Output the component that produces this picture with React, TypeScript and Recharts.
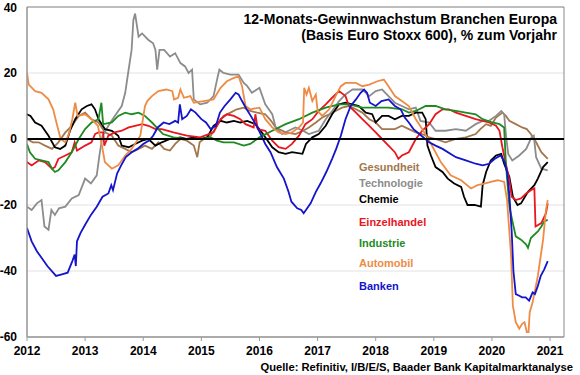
import React from "react";
import { LineChart, Line, XAxis, YAxis, CartesianGrid, ReferenceLine, ReferenceArea } from "recharts";

// 12-month earnings growth by sector, Euro Stoxx 600 basis (year fraction, % yoy)
type Pt = [number, number];

const gesundheit: Pt[] = [
  [2012.0, 0], [2012.1, -1], [2012.2, -1], [2012.31, -2], [2012.43, -3], [2012.54, -1], [2012.66, 2], [2012.77, 4],
  [2012.89, 7], [2013.0, 8], [2013.11, 6], [2013.23, 5], [2013.34, 2], [2013.46, 1], [2013.57, -2], [2013.69, -3],
  [2013.8, -4], [2013.92, -3], [2014.03, -2], [2014.15, -3], [2014.26, -1], [2014.36, -3], [2014.46, -3.5],
  [2014.55, -1.5], [2014.64, 0], [2014.75, -0.5], [2014.87, -2], [2014.93, -5.5], [2014.97, -1], [2015.04, 0],
  [2015.16, 1], [2015.27, 4], [2015.38, 7], [2015.5, 8], [2015.61, 9], [2015.73, 9.5], [2015.84, 8.5], [2015.96, 8],
  [2016.1, 7.5], [2016.2, 5.5], [2016.28, 3.5], [2016.45, 2], [2016.62, 1.5], [2016.75, 2.5], [2016.85, 3.5],
  [2016.97, 5], [2017.08, 6.5], [2017.2, 7.5], [2017.31, 8.5], [2017.42, 9.5], [2017.54, 10], [2017.66, 9],
  [2017.77, 8], [2017.89, 6], [2018.0, 5], [2018.11, 3], [2018.22, 3], [2018.33, 3], [2018.45, 4], [2018.57, 3],
  [2018.69, 2], [2018.8, 1.5], [2018.92, 0.5], [2019.03, 0], [2019.2, -1], [2019.38, 0], [2019.55, 0.5],
  [2019.72, 1.5], [2019.8, 3], [2019.9, 4.5], [2019.98, 4], [2020.07, 6.5], [2020.18, 8], [2020.24, 7],
  [2020.3, 5.5], [2020.41, 4.5], [2020.52, 3.5], [2020.6, 3], [2020.67, 1.5], [2020.76, -1], [2020.85, -4],
  [2020.96, -6],
];

const technologie: Pt[] = [
  [2012.0, -20.5], [2012.08, -21.5], [2012.17, -19.5], [2012.25, -18.5], [2012.3, -26.5], [2012.37, -27.5],
  [2012.42, -21.5], [2012.48, -23], [2012.55, -21], [2012.66, -20.5], [2012.77, -18], [2012.89, -17], [2013.0, -12],
  [2013.1, -13.5], [2013.2, -11], [2013.25, -4.5], [2013.3, 1], [2013.4, 4], [2013.51, 7], [2013.63, 10],
  [2013.69, 14], [2013.74, 20], [2013.8, 27], [2013.83, 36], [2013.86, 38], [2013.92, 31], [2013.98, 32],
  [2014.09, 30], [2014.17, 29], [2014.21, 27], [2014.24, 21], [2014.28, 27], [2014.36, 27], [2014.46, 25],
  [2014.55, 26], [2014.64, 23], [2014.72, 22], [2014.78, 20], [2014.84, 21], [2014.87, 12], [2014.98, 10.5],
  [2015.1, 11], [2015.21, 13], [2015.27, 18], [2015.31, 21], [2015.38, 20], [2015.5, 19.5], [2015.64, 19.5],
  [2015.73, 17], [2015.79, 16], [2015.87, 14], [2016.0, 15.5], [2016.1, 10.5], [2016.22, 7.5], [2016.28, 3.5],
  [2016.39, 1.5], [2016.5, 2.5], [2016.62, 3.5], [2016.75, 2.5], [2016.85, 1.5], [2017.02, 2.5], [2017.14, 6],
  [2017.25, 8.5], [2017.37, 11.5], [2017.48, 13.5], [2017.6, 15], [2017.77, 15], [2017.89, 13], [2018.0, 14.5],
  [2018.11, 15], [2018.22, 13], [2018.33, 11], [2018.45, 10], [2018.57, 9], [2018.69, 9.5], [2018.77, 5.5],
  [2018.92, 5], [2019.03, 2.5], [2019.2, 2.5], [2019.38, 3], [2019.55, 2.5], [2019.72, 4.5], [2019.84, 5.5],
  [2019.95, 5.5], [2020.07, 7], [2020.16, 8.5], [2020.21, 7.5], [2020.24, 1.5], [2020.28, -4.5], [2020.35, -6.5],
  [2020.47, -5], [2020.59, -3], [2020.68, 0.5], [2020.72, 1], [2020.76, -5.5], [2020.85, -9], [2020.96, -9.5],
];

const chemie: Pt[] = [
  [2012.0, 7.5], [2012.06, 7], [2012.14, 5], [2012.25, 4], [2012.37, 1], [2012.48, -2.5], [2012.57, -3],
  [2012.66, -2], [2012.74, 2.5], [2012.83, 6], [2012.94, 9], [2013.03, 10], [2013.11, 10.5], [2013.17, 9],
  [2013.23, 6], [2013.34, 3], [2013.46, 2.5], [2013.57, 1], [2013.63, -2], [2013.75, -2.5], [2013.86, -1.5],
  [2013.98, -0.5], [2014.09, 0], [2014.21, -2], [2014.32, -1], [2014.46, 0], [2014.64, 0.5], [2014.75, 0],
  [2014.87, 0.5], [2014.98, 0], [2015.1, 0.5], [2015.21, 4], [2015.33, 5.5], [2015.44, 5], [2015.56, 5.5],
  [2015.67, 5], [2015.79, 5.5], [2015.93, 4.5], [2016.02, 2.5], [2016.1, 0.5], [2016.22, -2.5], [2016.33, -4],
  [2016.45, -4.5], [2016.56, -4], [2016.74, -4.5], [2016.8, -1.5], [2016.91, 0.5], [2017.02, 1.5], [2017.14, 4],
  [2017.25, 7.5], [2017.37, 10.5], [2017.48, 11], [2017.6, 10.5], [2017.71, 10], [2017.83, 8], [2017.94, 7.5],
  [2018.0, 5], [2018.11, 7], [2018.22, 7], [2018.33, 6], [2018.45, 7], [2018.57, 7], [2018.69, 8], [2018.8, 8],
  [2018.86, 6], [2018.89, -2], [2018.95, -5], [2019.03, -8.5], [2019.15, -10], [2019.24, -12], [2019.35, -13.5],
  [2019.47, -14.5], [2019.52, -17.5], [2019.58, -20], [2019.7, -20], [2019.81, -20.5], [2019.84, -14],
  [2019.9, -10], [2019.98, -6.5], [2020.07, -5], [2020.16, -4.5], [2020.21, -7.5], [2020.3, -11.5],
  [2020.36, -17.5], [2020.44, -20], [2020.5, -19.5], [2020.62, -16], [2020.73, -14], [2020.79, -12],
  [2020.88, -8.5], [2020.96, -7],
];

const einzelhandel: Pt[] = [
  [2012.0, -7], [2012.08, -8], [2012.2, -6.5], [2012.31, -7], [2012.43, -9], [2012.48, -8.5], [2012.54, -6],
  [2012.66, -5], [2012.77, -4], [2012.82, -1], [2012.86, -3.5], [2013.0, -2], [2013.11, -1], [2013.17, 1.5],
  [2013.23, 2], [2013.31, 2], [2013.33, -2], [2013.4, 1], [2013.51, 2], [2013.63, 2.5], [2013.75, 3.5],
  [2013.86, 4], [2013.98, 4.5], [2014.09, 4], [2014.21, 3], [2014.32, 3], [2014.52, 2], [2014.75, 1],
  [2014.98, 0.5], [2015.21, 2], [2015.33, 6], [2015.44, 7.5], [2015.56, 7], [2015.67, 6], [2015.76, 4.5],
  [2015.9, 3.5], [2015.93, 7.5], [2015.97, 3], [2016.1, 2.5], [2016.22, -0.5], [2016.33, -2.5], [2016.45, -3],
  [2016.56, -1.5], [2016.68, 1], [2016.79, 4.5], [2016.91, 6], [2017.02, 8.5], [2017.14, 10.5], [2017.25, 12.5],
  [2017.37, 14.5], [2017.48, 13], [2017.54, 10], [2017.66, 8], [2017.77, 6], [2017.89, 4], [2018.0, 2],
  [2018.11, 0], [2018.22, -2], [2018.33, -4], [2018.39, -6], [2018.45, -5], [2018.57, -4], [2018.69, 0],
  [2018.8, 2.5], [2018.92, 4.5], [2019.03, 7.5], [2019.15, 9], [2019.26, 9], [2019.38, 8], [2019.55, 7],
  [2019.72, 6], [2019.84, 5.5], [2019.95, 5], [2020.07, 4], [2020.13, 2.5], [2020.18, -2.5], [2020.24, -7.5],
  [2020.3, -12.5], [2020.34, -17.5], [2020.41, -18.5], [2020.5, -18], [2020.59, -16.5], [2020.67, -15.5],
  [2020.73, -15], [2020.75, -26.5], [2020.85, -25.5], [2020.93, -22.5], [2020.96, -19.5],
];

const industrie: Pt[] = [
  [2012.0, -1.5], [2012.05, -4], [2012.14, -6], [2012.25, -6.5], [2012.37, -7], [2012.43, -9], [2012.48, -10],
  [2012.54, -9.5], [2012.66, -7], [2012.77, -4], [2012.89, 0], [2013.0, 3], [2013.11, 5], [2013.23, 6],
  [2013.28, 11], [2013.31, 4.5], [2013.46, 5], [2013.57, 7], [2013.69, 8], [2013.8, 7.5], [2013.92, 8],
  [2014.03, 7], [2014.15, 5], [2014.26, 3], [2014.34, 1.5], [2014.52, 0.5], [2014.75, 0], [2014.98, 0],
  [2015.16, 0.5], [2015.27, -0.5], [2015.38, -1], [2015.56, -1], [2015.73, -2], [2015.84, -1.5], [2016.0, 0.5],
  [2016.22, 2.5], [2016.45, 4.5], [2016.68, 6], [2016.91, 8], [2017.14, 9.5], [2017.37, 10.5], [2017.54, 10.5],
  [2017.77, 9.5], [2018.0, 9.5], [2018.22, 9.5], [2018.45, 9], [2018.57, 8], [2018.69, 8.5], [2018.86, 10],
  [2019.03, 10], [2019.2, 9], [2019.38, 8.5], [2019.55, 8], [2019.72, 7.5], [2019.84, 6], [2020.01, 5],
  [2020.13, 4.5], [2020.21, 3.5], [2020.24, -7.5], [2020.3, -20.5], [2020.36, -25.5], [2020.41, -29.5],
  [2020.5, -30.5], [2020.59, -32], [2020.62, -33], [2020.67, -30], [2020.79, -28], [2020.85, -26.5],
  [2020.9, -25], [2020.96, -24.5],
];

const automobil: Pt[] = [
  [2012.0, 20], [2012.03, 16.5], [2012.14, 14.5], [2012.25, 14], [2012.37, 12], [2012.45, 9], [2012.52, 4],
  [2012.58, 0], [2012.66, -1], [2012.72, 1.5], [2012.78, 6], [2012.83, 11], [2012.87, 7], [2013.0, 7.5],
  [2013.11, 6], [2013.22, 4], [2013.29, -2], [2013.34, -7], [2013.46, -9], [2013.57, -8], [2013.69, -5],
  [2013.8, -3], [2013.95, 1], [2014.03, 10], [2014.07, 11.5], [2014.15, 13], [2014.26, 14.5], [2014.4, 15],
  [2014.5, 14.5], [2014.53, 12], [2014.6, 12.5], [2014.64, 15], [2014.7, 12.5], [2014.81, 13], [2014.87, 11],
  [2015.04, 11.5], [2015.21, 12], [2015.33, 15.5], [2015.44, 17.5], [2015.56, 18.5], [2015.64, 19], [2015.7, 16],
  [2015.76, 10], [2015.84, 9], [2016.0, 9.5], [2016.1, 6], [2016.22, 3.5], [2016.33, 2], [2016.45, 1.5],
  [2016.56, 2], [2016.68, 3.5], [2016.75, 5], [2016.77, 15.5], [2016.81, 13.5], [2016.85, 15.5], [2016.91, 11.5],
  [2016.97, 13.5], [2017.0, 8.5], [2017.08, 7], [2017.2, 9], [2017.31, 13], [2017.4, 16], [2017.48, 17],
  [2017.66, 17], [2017.77, 16], [2017.89, 16.5], [2018.03, 17.5], [2018.14, 18], [2018.22, 16], [2018.33, 13],
  [2018.45, 11.5], [2018.57, 10], [2018.69, 6], [2018.8, 3], [2018.92, -0.5], [2019.03, -4], [2019.12, -7],
  [2019.29, -11], [2019.47, -12.5], [2019.64, -15], [2019.75, -14], [2019.87, -13.5], [2019.98, -13],
  [2020.1, -12.5], [2020.21, -13], [2020.26, -18.5], [2020.33, -35.5], [2020.36, -50.5], [2020.41, -55.5],
  [2020.47, -57.5], [2020.52, -56], [2020.56, -55.5], [2020.6, -58.5], [2020.63, -58.5], [2020.65, -52.5],
  [2020.7, -49.5], [2020.79, -41.5], [2020.88, -30.5], [2020.93, -21.5], [2020.96, -18.5],
];

const banken: Pt[] = [
  [2012.0, -27], [2012.08, -31], [2012.17, -34], [2012.25, -36], [2012.35, -38.5], [2012.45, -40.5],
  [2012.5, -41.5], [2012.6, -41], [2012.7, -40.5], [2012.78, -37], [2012.82, -35], [2012.84, -38.5],
  [2012.86, -31], [2012.92, -28.5], [2013.0, -26], [2013.1, -23], [2013.2, -20.5], [2013.3, -17.5],
  [2013.4, -16.5], [2013.45, -14], [2013.48, -15.5], [2013.55, -10.5], [2013.62, -8], [2013.7, -5.5],
  [2013.8, -4], [2013.9, -3], [2014.0, -1.5], [2014.1, -0.5], [2014.17, 1], [2014.25, 3.5], [2014.35, 5],
  [2014.45, 4.5], [2014.55, 5.5], [2014.6, 5], [2014.63, 10.5], [2014.67, 6], [2014.75, 7], [2014.82, 9],
  [2014.9, 8], [2015.0, 6], [2015.08, 5], [2015.16, 3], [2015.25, 4], [2015.32, 8], [2015.4, 10], [2015.5, 12],
  [2015.59, 14], [2015.64, 13.5], [2015.7, 11.5], [2015.78, 9], [2015.85, 7], [2015.95, 4], [2016.02, 1.5],
  [2016.1, -1.5], [2016.19, -4], [2016.3, -8.5], [2016.42, -12], [2016.5, -16], [2016.55, -19], [2016.65, -21],
  [2016.72, -21.5], [2016.76, -22.5], [2016.8, -21.5], [2016.88, -19.5], [2016.97, -16], [2017.05, -13.5],
  [2017.15, -10], [2017.25, -6], [2017.32, -3], [2017.4, 1], [2017.48, 6], [2017.57, 10], [2017.66, 12],
  [2017.74, 14], [2017.8, 15], [2017.85, 14], [2017.9, 11], [2018.0, 10], [2018.1, 11.5], [2018.22, 12],
  [2018.33, 10], [2018.43, 9], [2018.5, 6.5], [2018.57, 5], [2018.65, 3], [2018.75, 1.5], [2018.92, -1],
  [2019.03, -2], [2019.15, -3], [2019.38, -5.5], [2019.55, -6.5], [2019.72, -7.5], [2019.84, -8],
  [2019.95, -7.5], [2020.05, -6], [2020.15, -5], [2020.22, -7], [2020.26, -10], [2020.3, -17], [2020.34, -28],
  [2020.37, -40], [2020.41, -47], [2020.47, -47.5], [2020.52, -48], [2020.58, -48], [2020.64, -49],
  [2020.7, -46.5], [2020.74, -47], [2020.79, -44.5], [2020.84, -41.5], [2020.9, -39.5], [2020.96, -37],
];

const yearTicks = [2012, 2013, 2014, 2015, 2016, 2017, 2018, 2019, 2020, 2021];
const valueTicks = [-60, -40, -20, 0, 20, 40];

const series = [
  { name: "Gesundheit", color: "#A3774D", data: gesundheit },
  { name: "Technologie", color: "#8C8C8C", data: technologie },
  { name: "Chemie", color: "#000000", data: chemie },
  { name: "Einzelhandel", color: "#E8161E", data: einzelhandel },
  { name: "Industrie", color: "#1E8A22", data: industrie },
  { name: "Automobil", color: "#EE8B45", data: automobil },
  { name: "Banken", color: "#1414CC", data: banken },
];

const legendTops = [160, 176, 192, 215, 236, 256, 279];

const toPoints = (pts: Pt[]) => pts.map(([t, v]) => ({ t, v }));

const font = "Arial, 'Liberation Sans', sans-serif";
const tickStyle = { fontSize: 12, fontWeight: 700, fill: "#000", fontFamily: font };

export default function App() {
  return (
    <div style={{ position: "absolute", left: 0, top: 0, width: 580, height: 375, background: "#fff", fontFamily: font }}>
      <LineChart width={580} height={375} margin={{ top: 7, right: 16, left: 0, bottom: 0 }}>
        <CartesianGrid horizontal vertical={false} stroke="#e2e2e2" />
        <XAxis
          dataKey="t"
          type="number"
          domain={[2012, 2021.24]}
          ticks={yearTicks}
          allowDataOverflow
          height={38}
          axisLine={{ stroke: "#999" }}
          tickLine={{ stroke: "#999" }}
          tickSize={4}
          tickMargin={5}
          tick={tickStyle}
        />
        <YAxis
          type="number"
          domain={[-60, 40]}
          ticks={valueTicks}
          allowDataOverflow
          width={27}
          axisLine={{ stroke: "#999" }}
          tickLine={false}
          tickSize={0}
          tickMargin={10}
          tick={tickStyle}
        />
        <ReferenceArea x1={2012} x2={2021.24} y1={-60} y2={40} fill="none" stroke="#8a8a8a" />
        {series.map((s) => (
          <Line
            key={s.name}
            data={toPoints(s.data)}
            dataKey="v"
            name={s.name}
            type="linear"
            stroke={s.color}
            strokeWidth={1.8}
            dot={false}
            isAnimationActive={false}
          />
        ))}
        <ReferenceLine y={0} stroke="#000" strokeWidth={2} />
      </LineChart>

      <div style={{ position: "absolute", right: 23, top: 11, textAlign: "right", fontSize: 14, fontWeight: 700, lineHeight: "16px", color: "#000", whiteSpace: "nowrap" }}>
        <div>12-Monats-Gewinnwachstum Branchen Europa</div>
        <div>(Basis Euro Stoxx 600), % zum Vorjahr</div>
      </div>

      {series.map((s, i) => (
        <div
          key={s.name}
          style={{ position: "absolute", left: 359, top: legendTops[i], fontSize: 11, fontWeight: 700, lineHeight: "14px", color: s.color }}
        >
          {s.name}
        </div>
      ))}

      <div style={{ position: "absolute", right: 7, top: 360, fontSize: 11.2, fontWeight: 700, lineHeight: "14px", color: "#000", whiteSpace: "nowrap" }}>
        Quelle: Refinitiv, I/B/E/S, Baader Bank Kapitalmarktanalyse
      </div>
    </div>
  );
}
